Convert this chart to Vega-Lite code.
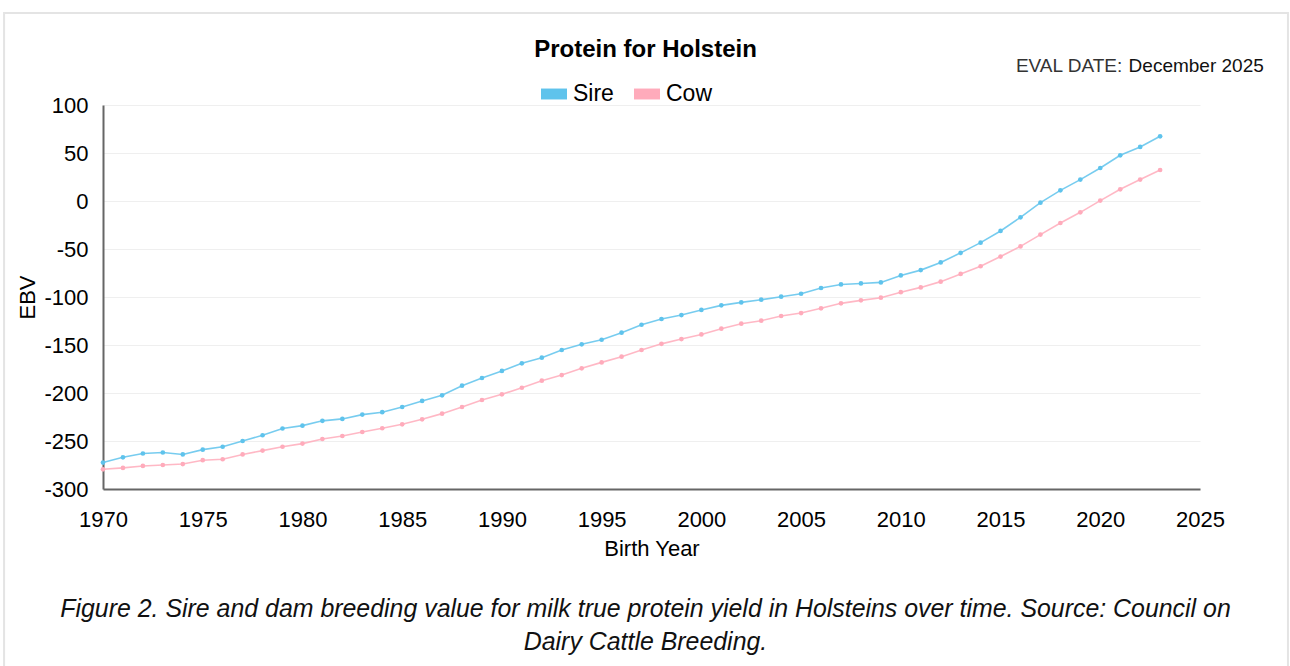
{
  "$schema": "https://vega.github.io/schema/vega-lite/v6.json",
  "width": 1097,
  "height": 384,
  "autosize": {"type": "none"},
  "padding": {"left": 103, "top": 105, "right": 90, "bottom": 177},
  "background": "white",
  "config": {
    "font": "Liberation Sans",
    "view": {"stroke": null}
  },
  "layer": [
    {
      "data": {"values": [{"frame": "card"}]},
      "mark": {"type": "rect", "fill": null, "stroke": "#e4e4e4", "strokeWidth": 2},
      "encoding": {
        "x": {"datum": 1965.04, "type": "quantitative"},
        "x2": {"datum": 2029.41},
        "y": {"datum": 195.8, "type": "quantitative"},
        "y2": {"datum": -560}
      }
    },
    {
      "data": {
        "values": [
          {"year": 1970, "series": "Sire", "ebv": -272.5},
          {"year": 1971, "series": "Sire", "ebv": -267},
          {"year": 1972, "series": "Sire", "ebv": -263},
          {"year": 1973, "series": "Sire", "ebv": -262},
          {"year": 1974, "series": "Sire", "ebv": -264},
          {"year": 1975, "series": "Sire", "ebv": -259},
          {"year": 1976, "series": "Sire", "ebv": -256},
          {"year": 1977, "series": "Sire", "ebv": -250},
          {"year": 1978, "series": "Sire", "ebv": -244},
          {"year": 1979, "series": "Sire", "ebv": -237},
          {"year": 1980, "series": "Sire", "ebv": -234},
          {"year": 1981, "series": "Sire", "ebv": -229},
          {"year": 1982, "series": "Sire", "ebv": -227},
          {"year": 1983, "series": "Sire", "ebv": -222.5},
          {"year": 1984, "series": "Sire", "ebv": -220},
          {"year": 1985, "series": "Sire", "ebv": -214.6},
          {"year": 1986, "series": "Sire", "ebv": -208.3},
          {"year": 1987, "series": "Sire", "ebv": -202.4},
          {"year": 1988, "series": "Sire", "ebv": -192.4},
          {"year": 1989, "series": "Sire", "ebv": -184.4},
          {"year": 1990, "series": "Sire", "ebv": -177},
          {"year": 1991, "series": "Sire", "ebv": -169.1},
          {"year": 1992, "series": "Sire", "ebv": -163.2},
          {"year": 1993, "series": "Sire", "ebv": -155.2},
          {"year": 1994, "series": "Sire", "ebv": -149.3},
          {"year": 1995, "series": "Sire", "ebv": -144.5},
          {"year": 1996, "series": "Sire", "ebv": -137.2},
          {"year": 1997, "series": "Sire", "ebv": -128.9},
          {"year": 1998, "series": "Sire", "ebv": -122.9},
          {"year": 1999, "series": "Sire", "ebv": -118.8},
          {"year": 2000, "series": "Sire", "ebv": -113.5},
          {"year": 2001, "series": "Sire", "ebv": -108.7},
          {"year": 2002, "series": "Sire", "ebv": -105.6},
          {"year": 2003, "series": "Sire", "ebv": -102.8},
          {"year": 2004, "series": "Sire", "ebv": -99.7},
          {"year": 2005, "series": "Sire", "ebv": -96.6},
          {"year": 2006, "series": "Sire", "ebv": -90.6},
          {"year": 2007, "series": "Sire", "ebv": -86.9},
          {"year": 2008, "series": "Sire", "ebv": -85.9},
          {"year": 2009, "series": "Sire", "ebv": -84.8},
          {"year": 2010, "series": "Sire", "ebv": -77.5},
          {"year": 2011, "series": "Sire", "ebv": -72},
          {"year": 2012, "series": "Sire", "ebv": -64},
          {"year": 2013, "series": "Sire", "ebv": -54},
          {"year": 2014, "series": "Sire", "ebv": -43.4},
          {"year": 2015, "series": "Sire", "ebv": -31.2},
          {"year": 2016, "series": "Sire", "ebv": -17},
          {"year": 2017, "series": "Sire", "ebv": -1.7},
          {"year": 2018, "series": "Sire", "ebv": 11.1},
          {"year": 2019, "series": "Sire", "ebv": 22.3},
          {"year": 2020, "series": "Sire", "ebv": 34.4},
          {"year": 2021, "series": "Sire", "ebv": 47.6},
          {"year": 2022, "series": "Sire", "ebv": 56.3},
          {"year": 2023, "series": "Sire", "ebv": 67.4},
          {"year": 1970, "series": "Cow", "ebv": -279.5},
          {"year": 1971, "series": "Cow", "ebv": -278},
          {"year": 1972, "series": "Cow", "ebv": -276},
          {"year": 1973, "series": "Cow", "ebv": -275},
          {"year": 1974, "series": "Cow", "ebv": -274},
          {"year": 1975, "series": "Cow", "ebv": -270},
          {"year": 1976, "series": "Cow", "ebv": -269},
          {"year": 1977, "series": "Cow", "ebv": -264},
          {"year": 1978, "series": "Cow", "ebv": -260},
          {"year": 1979, "series": "Cow", "ebv": -256},
          {"year": 1980, "series": "Cow", "ebv": -252.7},
          {"year": 1981, "series": "Cow", "ebv": -247.9},
          {"year": 1982, "series": "Cow", "ebv": -244.8},
          {"year": 1983, "series": "Cow", "ebv": -240.6},
          {"year": 1984, "series": "Cow", "ebv": -236.7},
          {"year": 1985, "series": "Cow", "ebv": -232.6},
          {"year": 1986, "series": "Cow", "ebv": -227.4},
          {"year": 1987, "series": "Cow", "ebv": -221.5},
          {"year": 1988, "series": "Cow", "ebv": -214.6},
          {"year": 1989, "series": "Cow", "ebv": -207.3},
          {"year": 1990, "series": "Cow", "ebv": -201.4},
          {"year": 1991, "series": "Cow", "ebv": -194.5},
          {"year": 1992, "series": "Cow", "ebv": -187.2},
          {"year": 1993, "series": "Cow", "ebv": -181.3},
          {"year": 1994, "series": "Cow", "ebv": -174.3},
          {"year": 1995, "series": "Cow", "ebv": -168.1},
          {"year": 1996, "series": "Cow", "ebv": -162.2},
          {"year": 1997, "series": "Cow", "ebv": -155.2},
          {"year": 1998, "series": "Cow", "ebv": -148.8},
          {"year": 1999, "series": "Cow", "ebv": -143.8},
          {"year": 2000, "series": "Cow", "ebv": -139},
          {"year": 2001, "series": "Cow", "ebv": -133},
          {"year": 2002, "series": "Cow", "ebv": -127.8},
          {"year": 2003, "series": "Cow", "ebv": -124.7},
          {"year": 2004, "series": "Cow", "ebv": -119.8},
          {"year": 2005, "series": "Cow", "ebv": -116.7},
          {"year": 2006, "series": "Cow", "ebv": -111.8},
          {"year": 2007, "series": "Cow", "ebv": -106.6},
          {"year": 2008, "series": "Cow", "ebv": -103.5},
          {"year": 2009, "series": "Cow", "ebv": -100.7},
          {"year": 2010, "series": "Cow", "ebv": -95},
          {"year": 2011, "series": "Cow", "ebv": -90},
          {"year": 2012, "series": "Cow", "ebv": -84},
          {"year": 2013, "series": "Cow", "ebv": -76},
          {"year": 2014, "series": "Cow", "ebv": -68},
          {"year": 2015, "series": "Cow", "ebv": -57.9},
          {"year": 2016, "series": "Cow", "ebv": -47.3},
          {"year": 2017, "series": "Cow", "ebv": -35},
          {"year": 2018, "series": "Cow", "ebv": -22.9},
          {"year": 2019, "series": "Cow", "ebv": -11.8},
          {"year": 2020, "series": "Cow", "ebv": 0.4},
          {"year": 2021, "series": "Cow", "ebv": 12.2},
          {"year": 2022, "series": "Cow", "ebv": 22.3},
          {"year": 2023, "series": "Cow", "ebv": 32.3}
        ]
      },
      "mark": {
        "type": "line",
        "strokeWidth": 1.6,
        "strokeOpacity": 0.85,
        "point": {"filled": true, "size": 22, "opacity": 1}
      },
      "encoding": {
        "x": {
          "field": "year",
          "type": "quantitative",
          "scale": {"domain": [1970, 2025], "nice": false, "zero": false},
          "axis": {
            "title": "Birth Year",
            "values": [1970, 1975, 1980, 1985, 1990, 1995, 2000, 2005, 2010, 2015, 2020, 2025],
            "labelExpr": "toString(datum.value)",
            "grid": false,
            "ticks": false,
            "tickSize": 0,
            "domainColor": "#666666",
            "domainWidth": 2,
            "labelFontSize": 22,
            "labelColor": "#000000",
            "labelPadding": 20,
            "labelFlush": false,
            "titleFontSize": 22,
            "titleFontWeight": "normal",
            "titleColor": "#000000",
            "titlePadding": 8
          }
        },
        "y": {
          "field": "ebv",
          "type": "quantitative",
          "scale": {"domain": [-300, 100], "nice": false, "zero": false},
          "axis": {
            "title": "EBV",
            "values": [-300, -250, -200, -150, -100, -50, 0, 50, 100],
            "labelExpr": "toString(datum.value)",
            "grid": true,
            "gridColor": "#efefef",
            "gridWidth": 1,
            "ticks": false,
            "tickSize": 0,
            "domainColor": "#666666",
            "domainWidth": 2,
            "labelFontSize": 22,
            "labelColor": "#000000",
            "labelPadding": 15,
            "labelFlush": false,
            "titleFontSize": 22,
            "titleFontWeight": "normal",
            "titleColor": "#000000",
            "titlePadding": 4
          }
        },
        "color": {
          "field": "series",
          "type": "nominal",
          "scale": {"domain": ["Sire", "Cow"], "range": ["#5fc3ec", "#ffabbb"]},
          "legend": {
            "title": null,
            "orient": "none",
            "direction": "horizontal",
            "legendX": 438,
            "legendY": -24,
            "labelFontSize": 23,
            "labelColor": "#000000",
            "labelOffset": 6,
            "columnPadding": 20,
            "symbolSize": 676,
            "symbolType": "M-1,-0.42H1V0.42H-1Z",
            "symbolStrokeWidth": 0,
            "padding": 0,
            "encode": {
              "symbols": {
                "update": {
                  "fill": {"scale": "color", "field": "value"},
                  "stroke": {"value": "transparent"},
                  "opacity": {"value": 1}
                }
              }
            }
          }
        }
      }
    },
    {
      "data": {"values": [{"label": "Protein for Holstein"}]},
      "mark": {"type": "text", "align": "center", "baseline": "middle", "fontSize": 24, "fontWeight": "bold", "color": "#000000"},
      "encoding": {
        "x": {"datum": 1997.2, "type": "quantitative"},
        "y": {"datum": 157.3, "type": "quantitative"},
        "text": {"field": "label"}
      }
    },
    {
      "data": {"values": [{"label": "December 2025"}]},
      "mark": {"type": "text", "align": "right", "baseline": "middle", "fontSize": 19, "color": "#111111"},
      "encoding": {
        "x": {"datum": 2028.2, "type": "quantitative"},
        "y": {"datum": 140.6, "type": "quantitative"},
        "text": {"field": "label"}
      }
    },
    {
      "data": {"values": [{"label": "EVAL DATE:"}]},
      "mark": {"type": "text", "align": "right", "baseline": "middle", "fontSize": 19, "color": "#333333", "fontWeight": 300},
      "encoding": {
        "x": {"datum": 2021.1, "type": "quantitative"},
        "y": {"datum": 140.6, "type": "quantitative"},
        "text": {"field": "label"}
      }
    },
    {
      "data": {"values": [{"label": "Figure 2. Sire and dam breeding value for milk true protein yield in Holsteins over time. Source: Council on\nDairy Cattle Breeding."}]},
      "mark": {"type": "text", "align": "center", "baseline": "top", "fontSize": 24.9, "fontStyle": "italic", "color": "#111111", "lineBreak": "\n", "lineHeight": 33},
      "encoding": {
        "x": {"datum": 1997.2, "type": "quantitative"},
        "y": {"datum": -412.5, "type": "quantitative"},
        "text": {"field": "label"}
      }
    }
  ]
}
